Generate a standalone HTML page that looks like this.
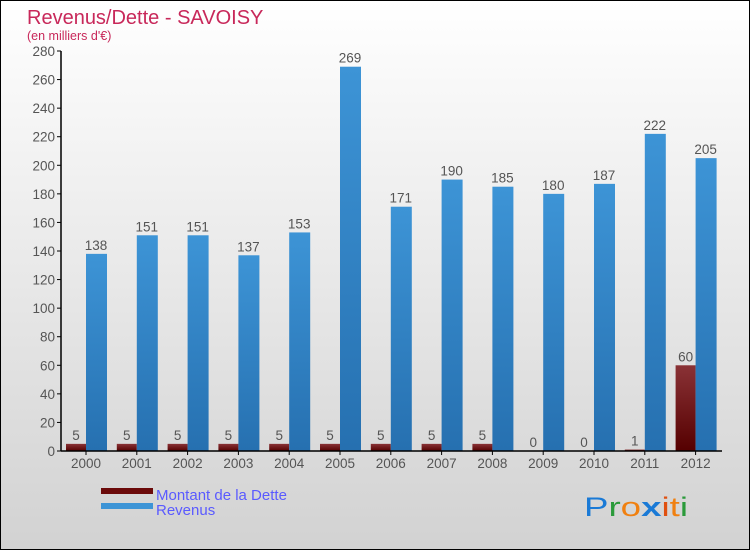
<!DOCTYPE html>
<html><head><meta charset="utf-8"><style>
body{margin:0}
#c{position:relative;width:748px;height:548px;border:1px solid #000;background:linear-gradient(#ffffff,#d2d2d2);font-family:"Liberation Sans",sans-serif;overflow:hidden}
</style></head><body>
<div id="c">
<svg id="s" width="748" height="548" xmlns="http://www.w3.org/2000/svg">
<defs>
<linearGradient id="gb" x1="0" y1="0" x2="0" y2="1"><stop offset="0" stop-color="#3d94d6"/><stop offset="1" stop-color="#2670b0"/></linearGradient>
<linearGradient id="gr" x1="0" y1="0" x2="0" y2="1"><stop offset="0" stop-color="#8a3236"/><stop offset="1" stop-color="#550000"/></linearGradient>
</defs>
<text x="26" y="23" font-size="20" fill="#c8285a">Revenus/Dette - SAVOISY</text>
<text x="26" y="39" font-size="12.5" fill="#c8285a">(en milliers d'€)</text>
<g id="g"></g>
<rect x="100" y="487" width="52" height="6" fill="#6b0a0a"/>
<text x="155" y="499" font-size="15" fill="#5a5aff">Montant de la Dette</text>
<rect x="100" y="502" width="52" height="6" fill="#3d94d6"/>
<text x="155" y="514" font-size="15" fill="#5a5aff">Revenus</text>
<text x="583" y="515" font-size="27" font-family="'Liberation Sans',sans-serif" textLength="104" lengthAdjust="spacingAndGlyphs"><tspan fill="#1a7ad6">P</tspan><tspan fill="#2a9a3a">r</tspan><tspan fill="#f08010">o</tspan><tspan fill="#1a7ad6" font-weight="bold">x</tspan><tspan fill="#e05010">i</tspan><tspan fill="#f08010">t</tspan><tspan fill="#2a9a3a">i</tspan></text>
</svg></div>
<script>
const years=["2000","2001","2002","2003","2004","2005","2006","2007","2008","2009","2010","2011","2012"];
const dette=[5,5,5,5,5,5,5,5,5,0,0,1,60];
const revenus=[138,151,151,137,153,269,171,190,185,180,187,222,205];
const ticks=[0,20,40,60,80,100,120,140,160,180,200,220,240,260,280];
const NS="http://www.w3.org/2000/svg";
const g=document.getElementById('g');
const y0=450,yTop=50,vmax=280;
const y=v=>y0-(v/vmax)*(y0-yTop);
const cx=i=>85+50.8*i;
function el(t,a,txt){const e=document.createElementNS(NS,t);for(const k in a)e.setAttribute(k,a[k]);if(txt!==undefined)e.textContent=txt;g.appendChild(e);return e;}
ticks.forEach(t=>{
 const l=el('line',{x1:56,x2:60,y1:y(t),y2:y(t),stroke:'#000'});
 
 
 const tx=el('text',{x:54,y:y(t)+5,'font-size':13.5,fill:'#555','text-anchor':'end'},t);
 
 
});
years.forEach((yr,i)=>{
 const c=cx(i);
 const d=el('rect',{x:c-20,y:y(dette[i]),width:20,height:y0-y(dette[i]),fill:'url(#gr)'});
 
 
 const r=el('rect',{x:c,y:y(revenus[i]),width:21,height:y0-y(revenus[i]),fill:'url(#gb)'});
 
 
 const dl=el('text',{x:c-10,y:y(dette[i])-4,'font-size':13.5,fill:'#555','text-anchor':'middle'},dette[i]);
 
 
 const rl=el('text',{x:c+10,y:y(revenus[i])-4,'font-size':13.5,fill:'#555','text-anchor':'middle'},revenus[i]);
 
 
 const tk=el('line',{x1:c,x2:c,y1:450,y2:454,stroke:'#000'});
 
 
 const xl=el('text',{x:c,y:467,'font-size':13.5,fill:'#555','text-anchor':'middle'},yr);
 
 
});
const ya=el('line',{x1:60,x2:60,y1:50,y2:450,stroke:'#000','stroke-width':1.5});


const xa=el('line',{x1:60,x2:721,y1:450,y2:450,stroke:'#000','stroke-width':1.5});


</script>
</body></html>
